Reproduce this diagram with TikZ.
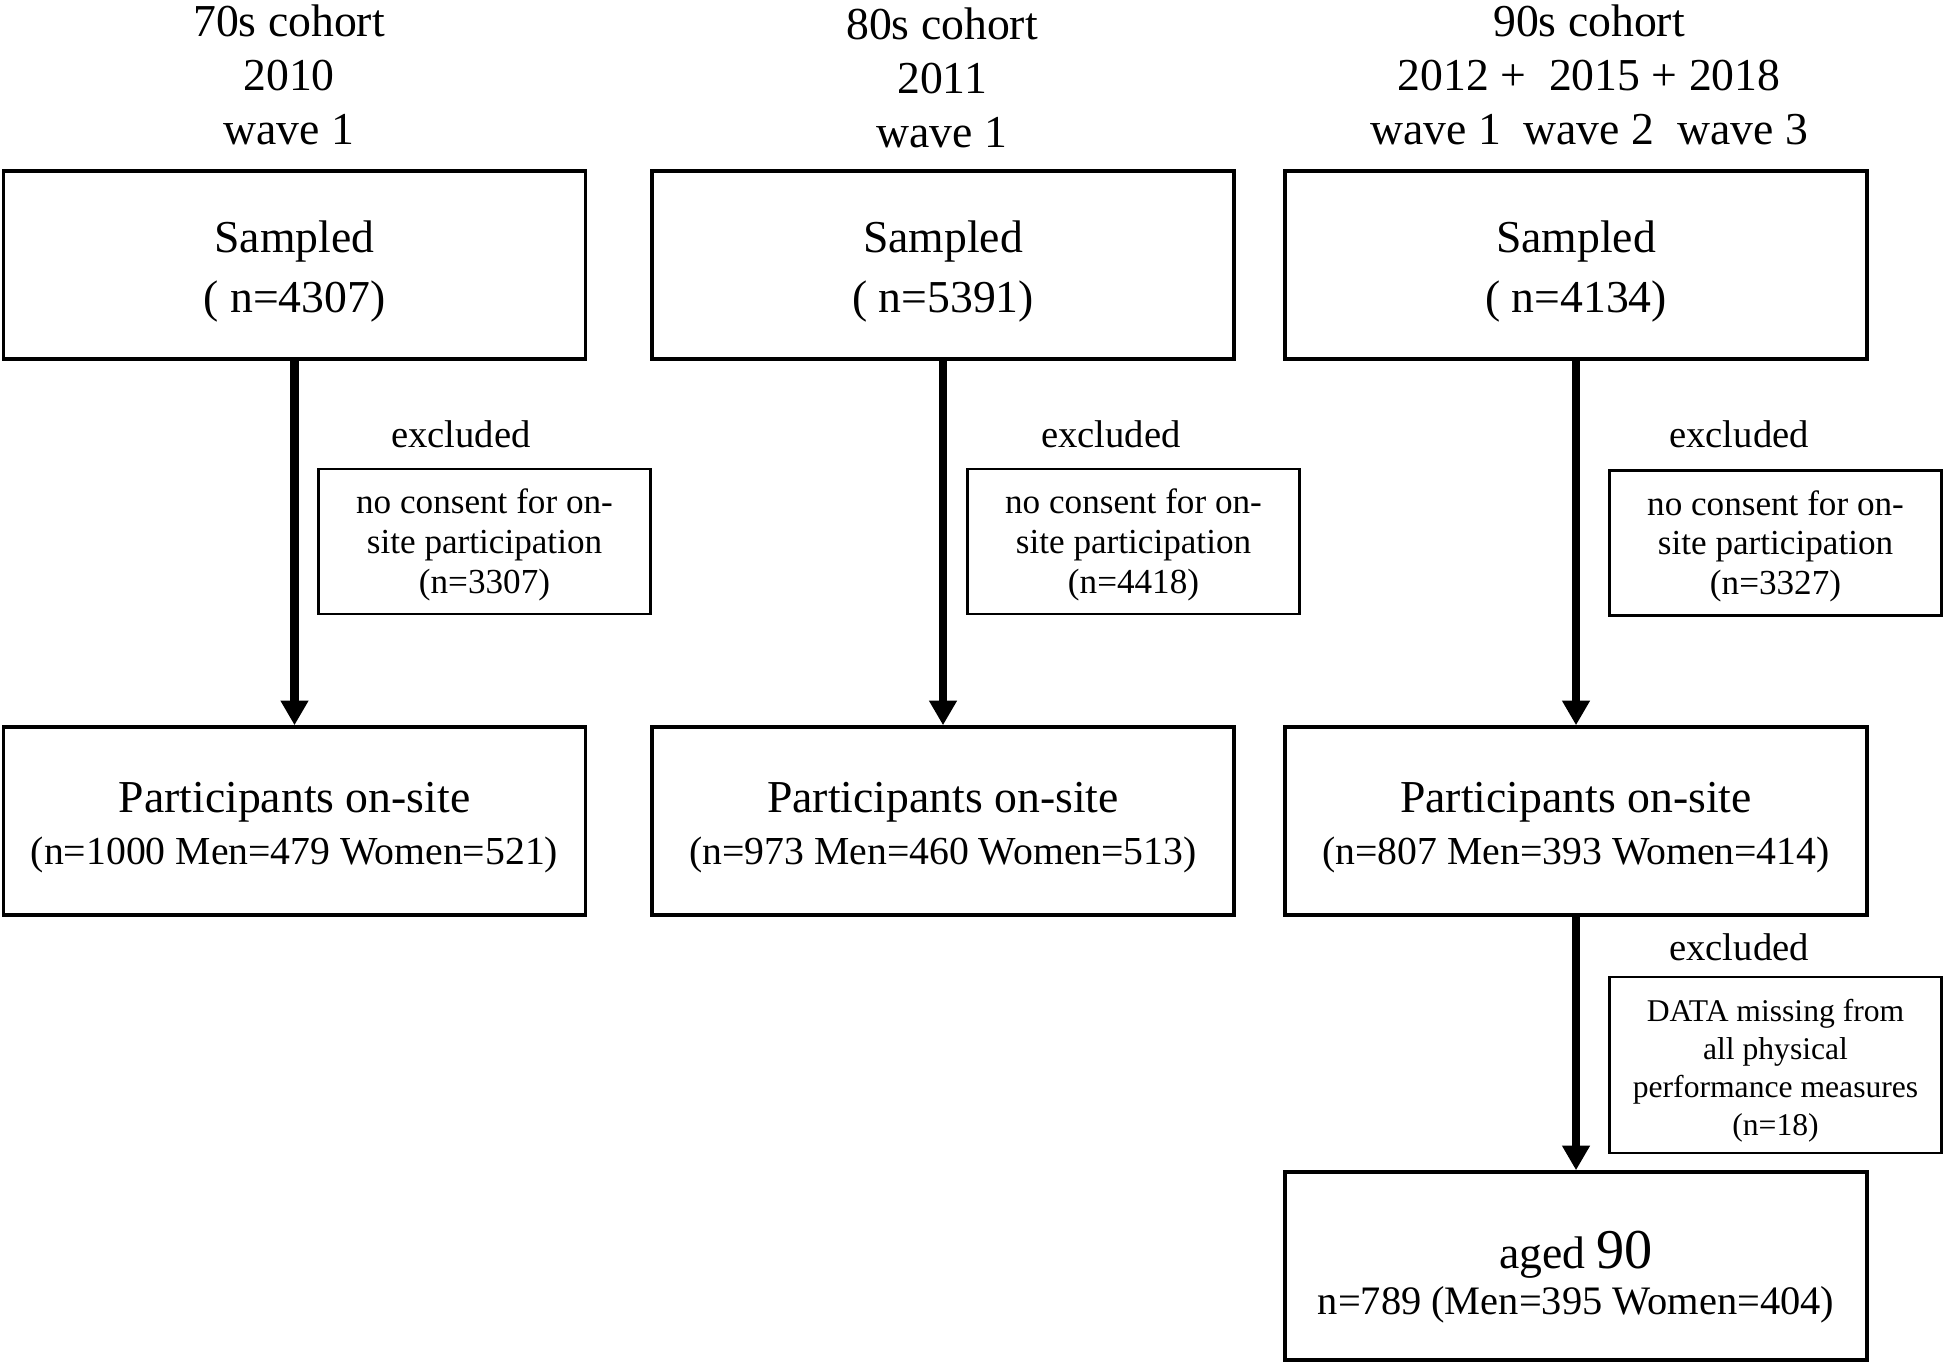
\documentclass[tikz,border=0pt]{standalone}
\usepackage{fontspec}
\setmainfont{Liberation Serif}
\usetikzlibrary{arrows.meta}
\newcommand{\toppad}[1]{\rule{0pt}{#1}}

\begin{document}
\begin{tikzpicture}
\tikzset{ >={Triangle[length=7pt,width=7.5pt]},
  box/.style={draw, line width=1pt, minimum width=5.82cm, minimum height=1.88cm, align=center, inner sep=0pt},
  exbox/.style={draw, line width=0.6pt, minimum width=3.32cm, minimum height=1.45cm, align=center, inner sep=0pt, font=\fontsize{10}{11.3}\selectfont},
  head/.style={align=center, font=\fontsize{13}{15.3}\selectfont},
  exlabel/.style={font=\fontsize{11}{13}\selectfont},
  flow/.style={->, line width=2.4pt},
}

%\draw [lightgray, dashed](0,0) grid (19,13);
\useasboundingbox (0,0) rectangle (19.44,13.65);

% cohort headers
\node [head] (H1) at (2.89,12.90) {70s cohort\\2010\\wave 1};
\node [head] (H2) at (9.42,12.87) {80s cohort\\2011\\wave 1};
\node [head] (H3) at (15.89,12.90) {90s cohort\\2012 + \ 2015 + 2018\\wave 1 \ wave 2 \ wave 3};

% sampled
\node [box, font=\fontsize{13}{17}\selectfont] (S1) at (2.945,11.00) {\toppad{12.6pt}Sampled\\( n=4307)};
\node [box, font=\fontsize{13}{17}\selectfont] (S2) at (9.43,11.00) {\toppad{12.6pt}Sampled\\( n=5391)};
\node [box, font=\fontsize{13}{17}\selectfont] (S3) at (15.76,11.00) {\toppad{12.6pt}Sampled\\( n=4134)};

% participants
\node [box, font=\fontsize{13}{15}\selectfont] (P1) at (2.945,5.44) {\toppad{12.4pt}Participants on-site\\ \fontsize{11.3}{15}\selectfont (n=1000 Men=479 Women=521)};
\node [box, font=\fontsize{13}{15}\selectfont] (P2) at (9.43,5.44) {\toppad{12.4pt}Participants on-site\\ \fontsize{11.3}{15}\selectfont (n=973 Men=460 Women=513)};
\node [box, font=\fontsize{13}{15}\selectfont] (P3) at (15.76,5.44) {\toppad{12.4pt}Participants on-site\\ \fontsize{11.3}{15}\selectfont (n=807 Men=393 Women=414)};

\node [box, font=\fontsize{13}{13}\selectfont] (A3) at (15.76,0.99) {\toppad{17pt}aged {\fontsize{16}{16}\selectfont 90}\\ \fontsize{11.5}{11.5}\selectfont n=789 (Men=395 Women=404)};

% exclusions
\node [exlabel] (X1) at (4.61,9.31) {excluded};
\node [exlabel] (X2) at (11.11,9.31) {excluded};
\node [exlabel] (X3) at (17.39,9.31) {excluded};
\node [exlabel] (X4) at (17.39,4.18) {excluded};

\node [exbox] (E1) at (4.845,8.235) {\toppad{8.9pt}no consent for on-\\site participation\\(n=3307)};
\node [exbox] (E2) at (11.335,8.235) {\toppad{8.9pt}no consent for on-\\site participation\\(n=4418)};
\node [exbox] (E3) at (17.755,8.22) {\toppad{8.9pt}no consent for on-\\site participation\\(n=3327)};
\node [exbox, minimum height=1.76cm, font=\fontsize{9}{10.9}\selectfont] (E4) at (17.755,3.00) {\toppad{9.6pt}DATA missing from\\all physical\\performance measures\\(n=18)};

\draw [flow] (S1) -- (P1);
\draw [flow] (S2) -- (P2);
\draw [flow] (S3) -- (P3);
\draw [flow] (P3) -- (A3);

\end{tikzpicture}
\end{document}
